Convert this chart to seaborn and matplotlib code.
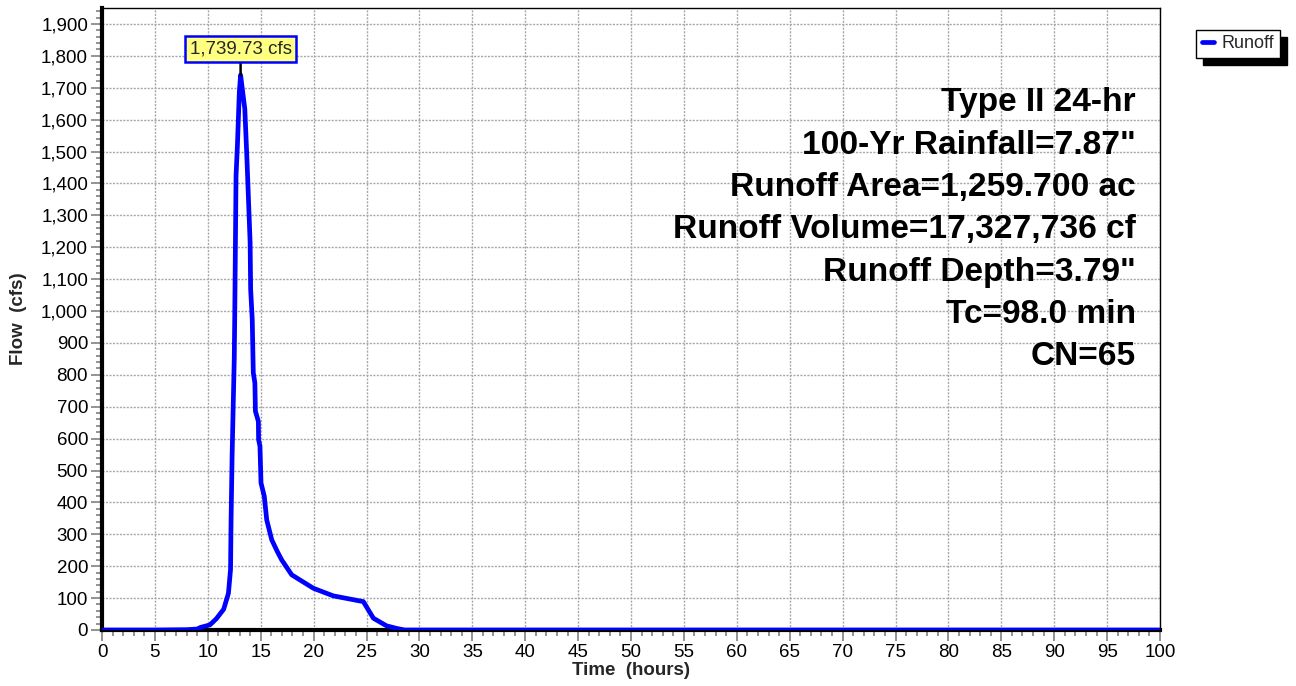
import numpy as np
import pandas as pd
import matplotlib
matplotlib.use("Agg")
import matplotlib.pyplot as plt
import seaborn as sns
from matplotlib.ticker import MultipleLocator, FuncFormatter
from matplotlib.lines import Line2D

# ---- data ----
time_hr = [0, 5, 8, 9, 9.3, 10.2, 10.8, 11.5, 11.95, 12.15, 12.2, 12.3, 12.4, 12.5,
           12.55, 12.67, 12.8, 12.98, 13.1, 13.3, 13.5, 13.7, 14.0, 14.05, 14.2,
           14.2, 14.3, 14.45, 14.5, 14.78, 14.8, 14.93, 15.03, 15.34, 15.57, 16.04,
           16.57, 16.98, 17.93, 19.97, 21.86, 24.7, 25.65, 26.9, 27.85, 28.6, 100]
flow_cfs = [0, 0, 1, 3, 8, 16, 35, 65, 115, 190, 345, 550, 700, 850,
            995, 1424, 1520, 1686, 1739.73, 1686, 1633, 1476, 1215, 1068, 1036,
            911, 806, 775, 686, 654, 597, 576, 461, 419, 345, 283,
            246, 220, 173, 131, 107, 89, 37, 13, 5, 0, 0]
peak_time = 13.1
peak_flow = 1739.73
peak_label = "1,739.73 cfs"
series_name = "Runoff"
info_lines = ['Type II 24-hr', '100-Yr Rainfall=7.87"', 'Runoff Area=1,259.700 ac',
              'Runoff Volume=17,327,736 cf', 'Runoff Depth=3.79"', 'Tc=98.0 min', 'CN=65']

df = pd.DataFrame({"Time (hours)": time_hr, "Flow (cfs)": flow_cfs, "series": series_name})

sns.set_theme(style="white")
plt.rcParams['font.family'] = ['Liberation Sans', 'DejaVu Sans']

fig = plt.figure(figsize=(12.96, 6.86), dpi=100)
ax = fig.add_axes([102/1296, 1-630/686, (1160-102)/1296, (630-8)/686])

sns.lineplot(data=df, x="Time (hours)", y="Flow (cfs)", hue="series",
             palette=["#0000FF"], linewidth=3.4, ax=ax, legend=False, zorder=5)

ax.set_xlim(0, 100)
ax.set_ylim(0, 1950)
ax.xaxis.set_major_locator(MultipleLocator(5))
ax.xaxis.set_minor_locator(MultipleLocator(1))
ax.yaxis.set_major_locator(MultipleLocator(100))
ax.yaxis.set_minor_locator(MultipleLocator(20))
ax.yaxis.set_major_formatter(FuncFormatter(lambda v, p: f"{int(v):,}"))
ax.xaxis.set_major_formatter(FuncFormatter(lambda v, p: f"{int(v)}"))

ax.grid(True, which="major", color="#A8A8A8", linestyle=(0, (1.5, 1.0)), linewidth=1.0)
ax.set_axisbelow(True)
ax.tick_params(axis="both", which="major", length=8, width=1.2, color="#808080",
               labelsize=13.5, labelcolor="black", direction="out", pad=2)
ax.tick_params(axis="both", which="minor", length=4, width=1.2, color="#808080", direction="out")
ax.tick_params(axis="x", which="both", bottom=True)
ax.tick_params(axis="y", which="both", left=True)

for s in ["top", "right"]:
    ax.spines[s].set_color("black")
    ax.spines[s].set_linewidth(1.0)
for s in ["left", "bottom"]:
    ax.spines[s].set_color("black")
    ax.spines[s].set_linewidth(3.0)

ax.set_xlabel("Time  (hours)", fontsize=13.5, fontweight="bold", labelpad=1)
ax.set_ylabel("Flow  (cfs)", fontsize=13.5, fontweight="bold", labelpad=10)

# peak annotation
ax.annotate(peak_label, xy=(peak_time, peak_flow), xytext=(peak_time, 1822),
            ha="center", va="center", fontsize=13.5,
            bbox=dict(boxstyle="square,pad=0.25", fc="#FFFF80", ec="#0000FF", lw=1.8),
            arrowprops=dict(arrowstyle="-", color="black", lw=1.8, shrinkA=0, shrinkB=0),
            zorder=10)

# info text
for i, line in enumerate(info_lines):
    y_px = 103 + i * 42.3
    fig.text(1136/1296, 1 - y_px/686, line, ha="right", va="center",
             fontsize=24.1, fontweight="bold", color="black")

# legend
handle = Line2D([0], [0], color="#0000FF", lw=3.4)
leg = fig.legend([handle], [series_name], loc="center", bbox_to_anchor=(1238/1296, 1-44/686),
                 fontsize=13, frameon=True, fancybox=False,
                 shadow={'color': 'black', 'alpha': 1, 'ox': 5, 'oy': -5},
                 handlelength=0.7, handletextpad=0.4, borderpad=0.3, borderaxespad=0)
leg.get_frame().set_edgecolor("black")
leg.get_frame().set_linewidth(1.0)

fig.savefig("out.png", dpi=100)
